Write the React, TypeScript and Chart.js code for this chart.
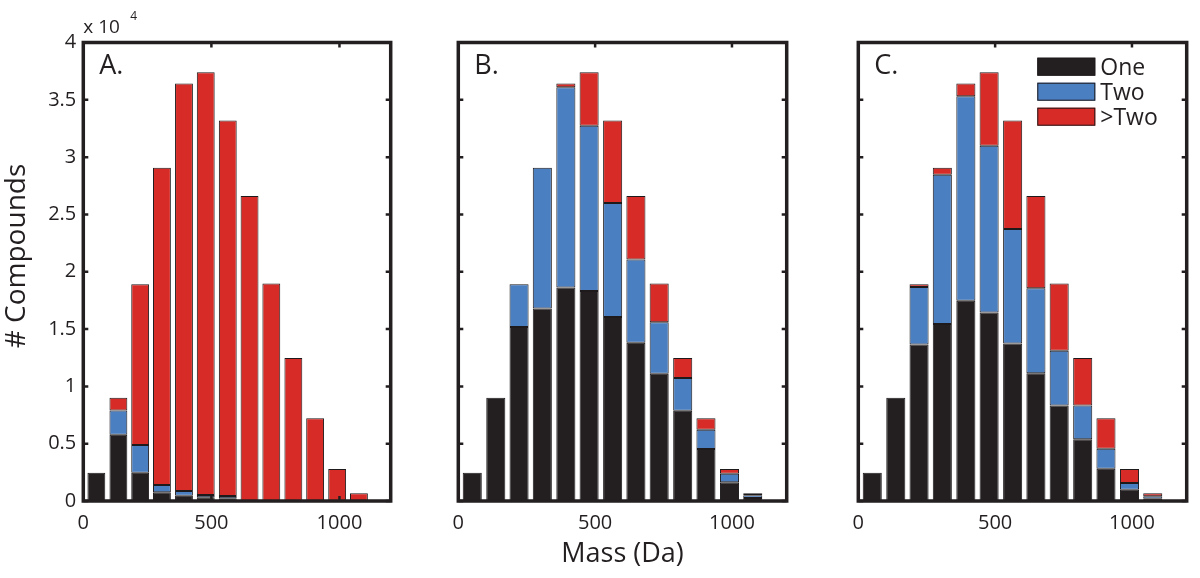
import React, { useEffect, useRef } from "react";
import { Chart, registerables } from "chart.js";

Chart.register(...registerables);

// ---- data ----
const binCenters = [51, 137, 222, 307, 393, 478, 564, 649, 734, 820, 905, 991, 1076];
const xTickValues = [0, 500, 1000];
const yTickValues = [0, 5000, 10000, 15000, 20000, 25000, 30000, 35000, 40000];
const seriesNames = ["One", "Two", ">Two"];
const panelLabels = ["A.", "B.", "C."];
const xAxisTitle = "Mass (Da)";
const yAxisTitle = "# Compounds";
const yExponentBase = "x 10";
const yExponent = "4";

// Panel A
const oneA = [2470, 5780, 2470, 760, 460, 320, 230, 0, 0, 0, 0, 0, 0];
const twoA = [0, 2120, 2410, 630, 410, 200, 210, 0, 0, 0, 0, 0, 0];
const moreA = [0, 1100, 14020, 27690, 35560, 36880, 32760, 26600, 18970, 12480, 7220, 2790, 670];

// Panel B
const oneB = [2470, 9000, 15190, 16790, 18620, 18330, 16060, 13800, 11100, 7870, 4530, 1630, 260];
const twoB = [0, 0, 3710, 12290, 17480, 14410, 9940, 7260, 4500, 2850, 1680, 750, 240];
const moreB = [0, 0, 0, 0, 330, 4660, 7200, 5540, 3370, 1760, 1010, 410, 170];

// Panel C
const oneC = [2470, 9000, 13650, 15450, 17460, 16440, 13740, 11150, 8340, 5380, 2820, 990, 200];
const twoC = [0, 0, 5030, 13020, 17860, 14560, 9990, 7410, 4760, 2960, 1740, 580, 210];
const moreC = [0, 0, 220, 610, 1110, 6400, 9470, 8040, 5870, 4140, 2660, 1220, 260];

const COLORS = ["#231f20", "#4a7fc2", "#d72b27"];
const EDGE = "#1e1a1b";
const INK = "#231f20";
const FONT = "'Open Sans', sans-serif";

type PanelProps = {
  idx: number;
  left: number;
  yWidth: number;
  rightPad: number;
  series: number[][];
  showYTicks: boolean;
  showXTitle: boolean;
  showLegend: boolean;
  showYTitle: boolean;
};

function Panel(p: PanelProps) {
  const ref = useRef<HTMLCanvasElement | null>(null);

  useEffect(() => {
    if (!ref.current) return;
    const boxPlugin = {
      id: "matlabBox" + p.idx,
      afterDatasetsDraw(chart: any) {
        const { ctx, chartArea: a, scales } = chart;
        const x = scales.x;
        const y = scales.y;
        ctx.save();
        ctx.strokeStyle = INK;
        ctx.lineWidth = 2.5;
        const tl = 5;
        ctx.beginPath();
        for (const v of xTickValues) {
          const px = x.getPixelForValue(v);
          ctx.moveTo(px, a.bottom);
          ctx.lineTo(px, a.bottom - tl);
          ctx.moveTo(px, a.top);
          ctx.lineTo(px, a.top + tl);
        }
        for (const v of yTickValues) {
          const py = y.getPixelForValue(v);
          ctx.moveTo(a.left, py);
          ctx.lineTo(a.left + tl, py);
          ctx.moveTo(a.right, py);
          ctx.lineTo(a.right - tl, py);
        }
        ctx.stroke();
        ctx.lineWidth = 3.5;
        ctx.strokeRect(a.left, a.top, a.right - a.left, a.bottom - a.top);

        // panel letter
        ctx.fillStyle = INK;
        ctx.font = `27px ${FONT}`;
        ctx.textAlign = "left";
        ctx.textBaseline = "alphabetic";
        ctx.fillText(panelLabels[p.idx], a.left + 16, a.top + 31.5);

        if (p.showYTitle) {
          // exponent label
          ctx.font = `19px ${FONT}`;
          ctx.fillText(yExponentBase, a.left, 33);
          ctx.font = `12px ${FONT}`;
          ctx.fillText(yExponent, a.left + 47, 19.5);
          // y title
          ctx.save();
          ctx.translate(25, 256);
          ctx.rotate(-Math.PI / 2);
          ctx.font = `28px ${FONT}`;
          ctx.textAlign = "center";
          ctx.fillText(yAxisTitle, 0, 0);
          ctx.restore();
        }

        if (p.showLegend) {
          const bx = a.left + 179;
          const bw = 58;
          const bh = 18;
          ctx.font = `23px ${FONT}`;
          ctx.textAlign = "left";
          for (let i = 0; i < 3; i++) {
            const by = a.top + 15.2 + i * 25;
            ctx.fillStyle = COLORS[i];
            ctx.fillRect(bx, by, bw, bh);
            ctx.lineWidth = 1;
            ctx.strokeStyle = EDGE;
            ctx.strokeRect(bx + 0.5, by + 0.5, bw - 1, bh - 1);
            ctx.fillStyle = INK;
            ctx.fillText(seriesNames[i], bx + bw + 5, by + 17.5);
          }
        }
        ctx.restore();
      },
    };

    const chart = new Chart(ref.current, {
      type: "bar",
      data: {
        labels: binCenters,
        datasets: p.series.map((d, i) => ({
          label: seriesNames[i],
          data: d,
          backgroundColor: COLORS[i],
          borderColor: EDGE,
          borderWidth: 1,
          borderSkipped: false,
        })),
      },
      options: {
        animation: false,
        responsive: false,
        maintainAspectRatio: false,
        events: [],
        layout: { padding: { top: 42.5, right: p.rightPad, bottom: 0, left: 0 } },
        datasets: { bar: { categoryPercentage: 1, barPercentage: 0.82 } },
        plugins: {
          legend: { display: false },
          tooltip: { enabled: false },
          title: { display: false },
        },
        scales: {
          x: {
            type: "linear",
            min: 0,
            max: 1200,
            offset: false,
            stacked: true,
            grid: { display: false, drawTicks: false, tickLength: 0, offset: false },
            border: { display: false },
            afterBuildTicks: (s: any) => {
              s.ticks = xTickValues.map((v) => ({ value: v }));
            },
            afterFit: (s: any) => {
              s.height = 77;
            },
            ticks: {
              font: { family: FONT, size: 20 },
              color: INK,
              padding: 10,
              maxRotation: 0,
              autoSkip: false,
              callback: (v: any) => String(v),
            },
            title: {
              display: p.showXTitle,
              text: xAxisTitle,
              color: INK,
              font: { family: FONT, size: 27 },
              padding: { top: 0, bottom: 7 },
            },
          },
          y: {
            type: "linear",
            min: 0,
            max: 40000,
            stacked: true,
            grid: { display: false, drawTicks: false, tickLength: 0 },
            border: { display: false },
            afterBuildTicks: (s: any) => {
              s.ticks = yTickValues.map((v) => ({ value: v }));
            },
            afterFit: (s: any) => {
              s.width = p.yWidth;
            },
            ticks: {
              display: p.showYTicks,
              font: { family: FONT, size: 20 },
              color: INK,
              padding: 7,
              callback: (v: any) => String(Number(v) / 10000),
            },
          },
        },
      } as any,
      plugins: [boxPlugin],
    });
    return () => chart.destroy();
  }, []);

  return (
    <canvas
      ref={ref}
      width={400}
      height={578}
      style={{ position: "absolute", left: p.left, top: 0, width: 400, height: 578, display: "block" }}
    />
  );
}

export default function App() {
  return (
    <div style={{ position: "absolute", left: 0, top: 0, width: 1200, height: 578, background: "#fff", overflow: "hidden" }}>
      <Panel idx={0} left={0} yWidth={83.3} rightPad={9.3} series={[oneA, twoA, moreA]}
        showYTicks={true} showXTitle={false} showLegend={false} showYTitle={true} />
      <Panel idx={1} left={400} yWidth={58.3} rightPad={13.3} series={[oneB, twoB, moreB]}
        showYTicks={false} showXTitle={true} showLegend={false} showYTitle={false} />
      <Panel idx={2} left={800} yWidth={58.3} rightPad={13.3} series={[oneC, twoC, moreC]}
        showYTicks={false} showXTitle={false} showLegend={true} showYTitle={false} />
    </div>
  );
}
